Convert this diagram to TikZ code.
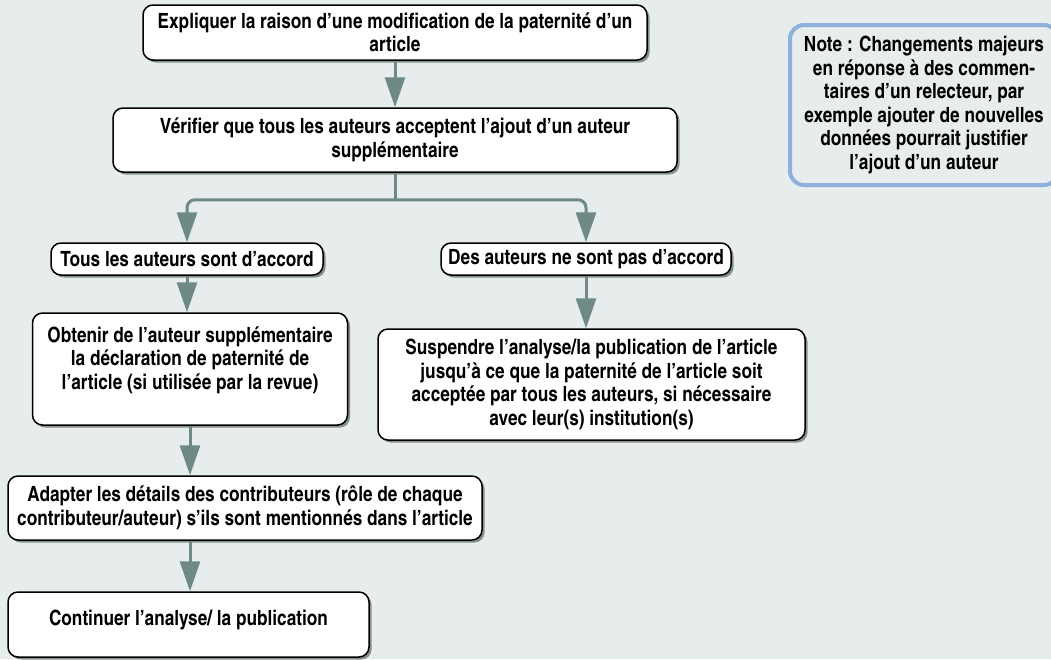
\documentclass[tikz,border=0pt]{standalone}
\usepackage{fontspec}
\setmainfont{TeX Gyre Heros Cn}
\usetikzlibrary{arrows.meta,shadows}
\definecolor{flowbg}{RGB}{231,237,237}
\definecolor{flowarrow}{RGB}{111,138,134}
\definecolor{flowshadow}{RGB}{135,143,143}
\definecolor{noteblue}{RGB}{141,176,220}

\begin{document}
\begin{tikzpicture}[x=1pt,y=-1pt,line width=1.5pt]
            \tikzstyle{every node}=[font=\fontsize{21}{23.5}\selectfont\bfseries, align=center, inner sep=0pt]
            \tikzstyle{flowbox}=[draw=black, fill=white, rounded corners=10pt,
                drop shadow={shadow xshift=2.5pt, shadow yshift=-2.5pt, fill=flowshadow, opacity=1}]
            \tikzstyle{flowarr}=[draw=flowarrow, line width=3pt, -{Triangle[width=20pt,length=30pt]}]
            %\tikzstyle{flowline}=[draw=flowarrow, line width=3pt]
            \fill[flowbg] (0,0) rectangle (1051,659);
            \useasboundingbox (0,0) rectangle (1051,659);

            \node[flowbox, minimum width=504, minimum height=55] (expl) at (395, 32.5)
                {Expliquer la raison d’une modification de la paternité d’un\\article};
            \node[flowbox, minimum width=564, minimum height=64] (verif) at (395, 140)
                {Vérifier que tous les auteurs acceptent l’ajout d’un auteur\\supplémentaire};
            \node[flowbox, minimum width=272, minimum height=32] (accord) at (187, 259)
                {Tous les auteurs sont d’accord};
            \node[flowbox, minimum width=290, minimum height=32] (desaccord) at (586, 259)
                {Des auteurs ne sont pas d’accord};
            \node[flowbox, minimum width=315, minimum height=112, text depth=22pt] (obtenir) at (190, 369)
                {Obtenir de l’auteur supplémentaire\\la déclaration de paternité de\\l’article (si utilisée par la revue)};
            \node[flowbox, minimum width=427, minimum height=111] (suspendre) at (591.5, 384.5)
                {Suspendre l’analyse/la publication de l’article\\jusqu’à ce que la paternité de l’article soit\\acceptée par tous les auteurs, si nécessaire\\avec leur(s) institution(s)};
            \node[flowbox, minimum width=474, minimum height=64] (adapter) at (245, 508)
                {Adapter les détails des contributeurs (rôle de chaque\\contributeur/auteur) s’ils sont mentionnés dans l’article};
            \node[flowbox, minimum width=361, minimum height=65, text depth=13pt] (continuer) at (188.5, 624.5)
                {Continuer l’analyse/ la publication};
            \node[draw=noteblue, line width=4pt, fill=flowbg, rounded corners=14pt,
                  minimum width=268, minimum height=160] (note) at (924, 105)
                {Note : Changements majeurs\\en réponse à des commen-\\taires d’un relecteur, par\\exemple ajouter de nouvelles\\données pourrait justifier\\l’ajout d’un auteur};

            \draw[flowarr] (expl) -- (verif);
            \draw[draw=flowarrow, line width=3pt] (verif.south) -- ++(0,27) coordinate (split);
            \draw[flowarr, rounded corners=8pt] (split) -| (accord);
            \draw[flowarr, rounded corners=8pt] (split) -| (desaccord);
            \draw[flowarr] (accord.south) -- (accord.south |- obtenir.north);
            \draw[flowarr] (desaccord.south) -- (desaccord.south |- suspendre.north);
            \draw[flowarr] (obtenir.south) -- (obtenir.south |- adapter.north);
            \draw[flowarr] (obtenir.south |- adapter.south) -- (obtenir.south |- continuer.north);
        \end{tikzpicture}
\end{document}
